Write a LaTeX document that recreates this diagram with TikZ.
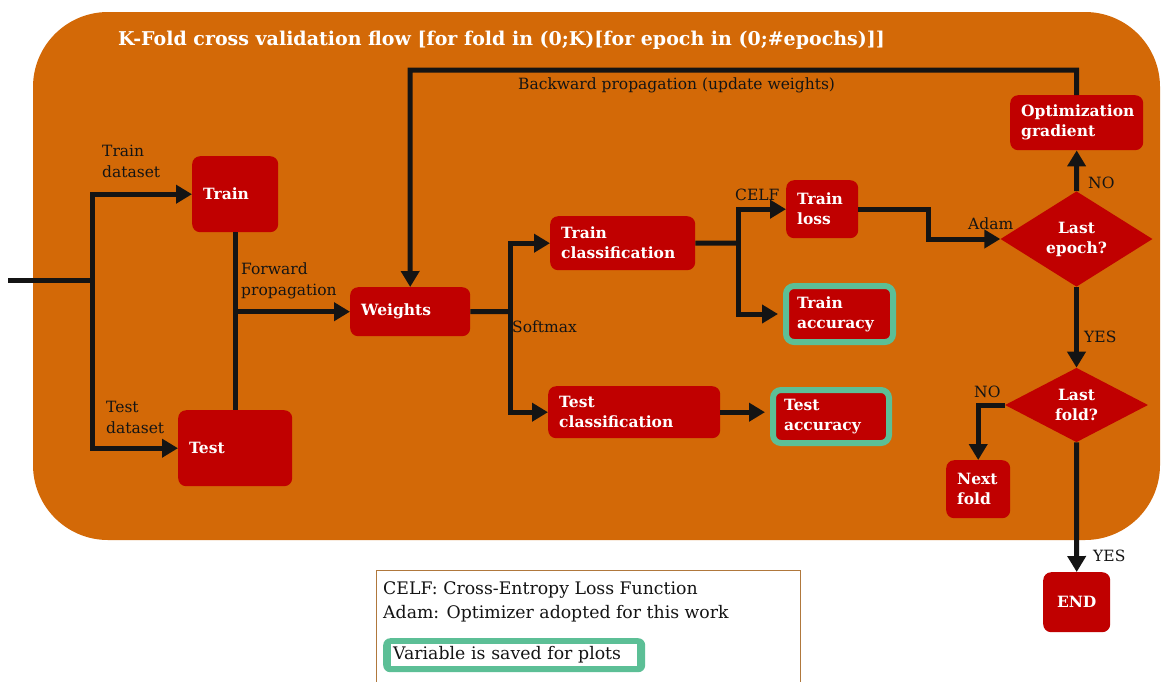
\documentclass[tikz,border=0pt]{standalone}
\usepackage{fontspec}
\setmainfont{DejaVu Serif}
\usetikzlibrary{arrows.meta,shapes.geometric}
\definecolor{bgorange}{HTML}{D36907}
\definecolor{boxred}{HTML}{C00000}
\definecolor{saveteal}{HTML}{5CBF96}
\definecolor{legendedge}{HTML}{B0783C}
\definecolor{ink}{HTML}{141414}

\begin{document}
\begin{tikzpicture}[x=1pt,y=-1pt,
  wire/.style={line width=5, draw=ink},
  flow/.style={wire, -{Triangle[length=16,width=18]}},
  rbox/.style={fill=boxred, rounded corners=8, text=white,
    font=\bfseries\fontsize{15.5}{20}\selectfont, inner xsep=11, inner ysep=0,
    align=left, anchor=north west},
  savedbox/.style={rbox, draw=saveteal, line width=6},
  decision/.style={diamond, fill=boxred, text=white, inner sep=0,
    font=\bfseries\fontsize{15.5}{20}\selectfont, align=center},
  lbl/.style={text=ink, font=\fontsize{15.5}{21}\selectfont, align=left, anchor=west, inner sep=0},
  legendtxt/.style={text=ink, font=\fontsize{17.3}{20}\selectfont, anchor=west, inner sep=0}
]
\useasboundingbox (0,0) rectangle (1161,681);
\fill[white] (0,0) rectangle (1161,681);

% loop frame
\fill[bgorange, rounded corners=75] (33,12) rectangle (1160,540);
\node[anchor=west, text=white, inner sep=0, font=\bfseries\fontsize{19}{22}\selectfont] (title) at (118,40)
  {K-Fold cross validation flow [for fold in (0;K)[for epoch in (0;\#epochs)]]};

% process boxes
\node[rbox, minimum width=86, minimum height=76, text width=64] (train) at (192,156) {Train};
\node[rbox, minimum width=114, minimum height=76, text width=92] (test) at (178,410) {Test};
\node[rbox, minimum width=120, minimum height=49, text width=98] (weights) at (350,287) {Weights};
\node[rbox, minimum width=145, minimum height=54, text width=123] (trcls) at (550,216) {Train\\classification};
\node[rbox, minimum width=172, minimum height=52, text width=150] (tecls) at (548,386) {Test\\classification};
\node[rbox, minimum width=72, minimum height=58, text width=50] (trloss) at (786,180) {Train\\loss};
\node[savedbox, minimum width=107, minimum height=56, text width=85] (tracc) at (783,283) {Train\\accuracy};
\node[savedbox, minimum width=116, minimum height=53, text width=94] (teacc) at (770,387) {Test\\accuracy};
\node[rbox, minimum width=133, minimum height=55, text width=111] (optg) at (1010,95) {Optimization\\gradient};
\node[rbox, minimum width=64, minimum height=58, text width=42] (nextf) at (946,460) {Next\\fold};
\node[rbox, minimum width=67, minimum height=60, text width=45, align=center] (endn) at (1043,572) {END};

% decisions
\node[decision, minimum width=152, minimum height=66] (lastep) at (1076.5,239) {Last\\epoch?};
\node[decision, minimum width=143, minimum height=70] (lastfold) at (1076.5,405) {Last\\fold?};

% junction points
\coordinate (in) at (8,280);
\coordinate (split) at (92,280);
\coordinate (sm) at (510,311.5);
\coordinate (celf) at (738,243);
\coordinate (looptop) at (410,70);

% connectors
\draw[wire] (in) -- (split);
\draw[flow] (split) |- (train.west);
\draw[flow] (split) |- (test.west);
\draw[wire] (train.south) -- (test.north);
\draw[flow] (train.south |- weights.west) -- (weights.west);
\draw[wire] (weights.east) -- (sm);
\draw[flow] (sm) |- (trcls.west);
\draw[flow] (sm) |- (tecls.west);
\draw[wire] (trcls.east) -- (celf);
\draw[flow] (celf) |- (trloss.west);
\draw[flow, shorten >=2] (celf) |- ([xshift=-3]tracc.west);
\draw[flow, shorten >=2] (tecls.east) -- ([xshift=-3]tecls.east -| teacc.west);
\draw[flow] (trloss.east) -- ++(70,0) |- (lastep.west);
\draw[flow] (lastep.north) -- (optg.south);
\draw[flow] (optg.north) |- (looptop) -- (weights.north);
\draw[flow] (lastep.south) -- (lastfold.north);
\draw[flow] (lastfold.west) -| (nextf.north);
\draw[flow] (lastfold.south) -- (endn.north);

% connector labels
\node[lbl] (ltrain) at (102,161) {Train\\dataset};
\node[lbl] (ltest) at (106,417) {Test\\dataset};
\node[lbl] (lfwd) at (241,281) {Forward\\propagation};
\node[lbl] (lsoft) at (512,327) {Softmax};
\node[lbl] (lcelf) at (735,195) {CELF};
\node[lbl] (ladam) at (968,224) {Adam};
\node[lbl] (lback) at (518,85) {Backward propagation (update weights)};
\node[lbl] (lno1) at (1088,183) {NO};
\node[lbl] (lyes1) at (1084,337) {YES};
\node[lbl] (lno2) at (974,392) {NO};
\node[lbl] (lyes2) at (1093,556) {YES};

% legend
\node[draw=legendedge, fill=white, line width=1.2, anchor=north west, inner sep=0,
  minimum width=424, minimum height=130] (legend) at (376,570) {};
\node[legendtxt] (lg1) at (383,590) {CELF: Cross-Entropy Loss Function};
\node[legendtxt] (lg2) at (383,614) {Adam: Optimizer adopted for this work};
\node[fill=saveteal, rounded corners=7, inner sep=0, anchor=north west,
  minimum width=262, minimum height=34] (savedkey) at (383,638) {};
\node[fill=white, anchor=west, inner xsep=2, inner ysep=0, minimum height=22,
  text width=242, align=left, text=ink, font=\fontsize{17.3}{20}\selectfont] (savedtxt) at (391,655) {Variable is saved for plots};
\end{tikzpicture}
\end{document}
